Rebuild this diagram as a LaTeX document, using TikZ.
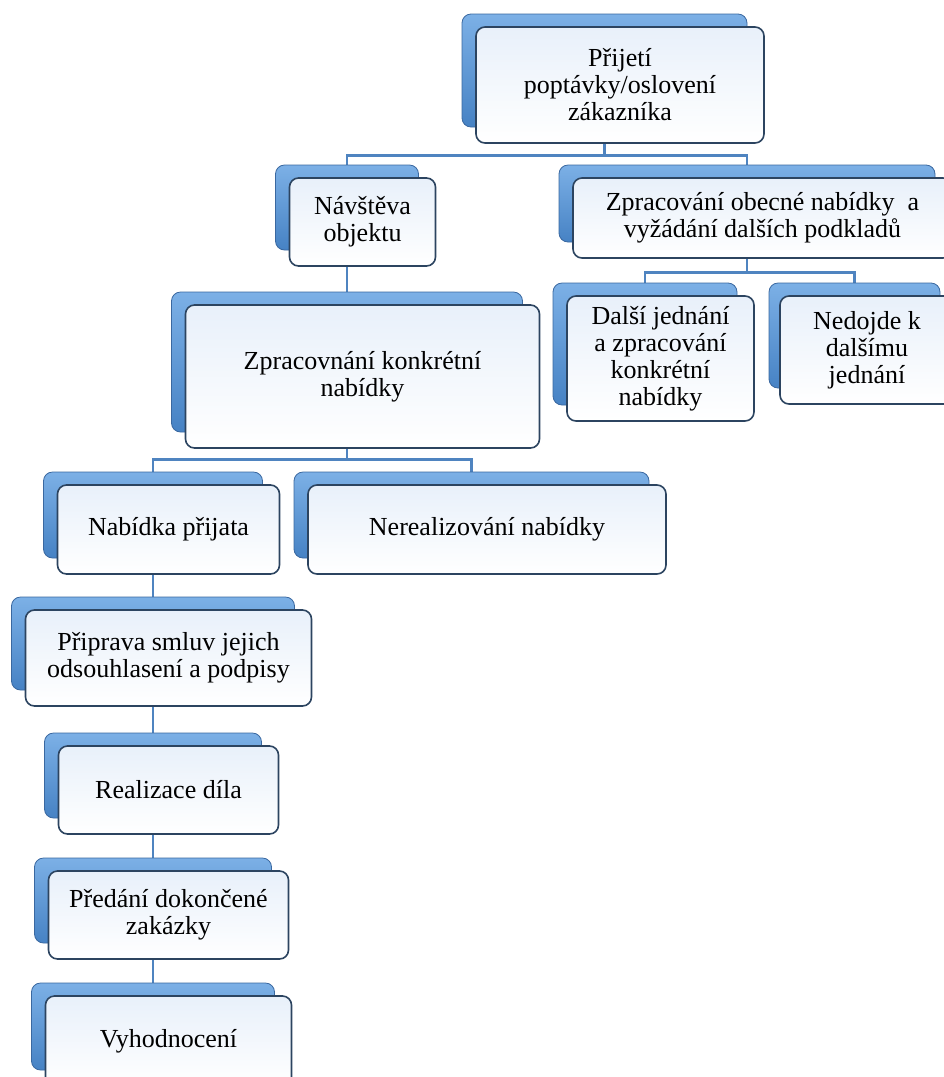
\documentclass[tikz,border=0pt]{standalone}
\usepackage{fontspec}
\setmainfont{Liberation Serif}
\usepackage{tikz}
\usetikzlibrary{backgrounds}
\definecolor{backtop}{RGB}{124,176,230}
\definecolor{backbot}{RGB}{70,130,196}
\definecolor{backedge}{RGB}{58,104,160}
\definecolor{fronttop}{RGB}{232,240,250}
\definecolor{frontedge}{RGB}{44,68,96}
\definecolor{linkcolor}{RGB}{79,132,192}

\begin{document}
\begin{tikzpicture}[
  x=1pt, y=-1pt,
  backbox/.style={draw=backedge, rounded corners=9pt, top color=backtop, bottom color=backbot, line width=0.8pt, inner sep=0pt},
  frontbox/.style={draw=frontedge, rounded corners=9pt, top color=fronttop, bottom color=white, line width=1.6pt, inner sep=0pt, align=center, font=\fontsize{26}{27}\selectfont},
  link/.style={draw=linkcolor, line width=2.2pt},
]
\path[use as bounding box] (0,0) rectangle (944,1077);
\clip (0,0) rectangle (944,1077);

% Top level
\node[backbox, minimum width=285pt, minimum height=113pt] (top_b) at (604.5,70.5) {};
\node[frontbox, minimum width=288pt, minimum height=116pt] (top) at (620,85) {Přijetí\\poptávky/oslovení\\zákazníka};

% Second level
\node[backbox, minimum width=143pt, minimum height=85pt] (nav_b) at (347,207.5) {};
\node[frontbox, minimum width=146pt, minimum height=88pt] (nav) at (362.5,222) {Návštěva\\objektu};
\node[backbox, minimum width=376pt, minimum height=77pt] (obec_b) at (747,203.5) {};
\node[frontbox, minimum width=379pt, minimum height=80pt] (obec) at (762.5,218) {Zpracování obecné nabídky\ \ a\\vyžádání dalších podkladů};

% Right branch
\node[backbox, minimum width=184pt, minimum height=122pt] (dalsi_b) at (645,344) {};
\node[frontbox, minimum width=187pt, minimum height=125pt] (dalsi) at (660.5,358.5) {Další jednání\\a zpracování\\konkrétní\\nabídky};
\node[backbox, minimum width=171pt, minimum height=105pt] (nedo_b) at (854.5,335.5) {};
\node[frontbox, minimum width=174pt, minimum height=108pt] (nedo) at (867,350) {Nedojde k\\dalšímu\\jednání};

% Left branch
\node[backbox, minimum width=351pt, minimum height=140pt] (konk_b) at (347,362) {};
\node[frontbox, minimum width=354pt, minimum height=143pt] (konk) at (362.5,376.5) {Zpracovnání konkrétní\\nabídky};
\node[backbox, minimum width=219pt, minimum height=86pt] (prij_b) at (153,515) {};
\node[frontbox, minimum width=222pt, minimum height=89pt] (prij) at (168.5,529.5) {Nabídka přijata};
\node[backbox, minimum width=355pt, minimum height=86pt] (nere_b) at (471.5,515) {};
\node[frontbox, minimum width=358pt, minimum height=89pt] (nere) at (487,529.5) {Nerealizování nabídky};

% Chain after acceptance
\node[backbox, minimum width=283pt, minimum height=93pt] (prip_b) at (153,643.5) {};
\node[frontbox, minimum width=286pt, minimum height=96pt] (prip) at (168.5,658) {Připrava smluv jejich\\odsouhlasení a podpisy};
\node[backbox, minimum width=217pt, minimum height=85pt] (real_b) at (153,775.5) {};
\node[frontbox, minimum width=220pt, minimum height=88pt] (real) at (168.5,790) {Realizace díla};
\node[backbox, minimum width=237pt, minimum height=85pt] (pred_b) at (153,900.5) {};
\node[frontbox, minimum width=240pt, minimum height=88pt] (pred) at (168.5,915) {Předání dokončené\\zakázky};
\node[backbox, minimum width=243pt, minimum height=87pt] (vyho_b) at (153,1026.5) {};
\node[frontbox, minimum width=246pt, minimum height=90pt] (vyho) at (168.5,1041) {Vyhodnocení};

% Connectors
\begin{scope}[on background layer]
\draw[link] (top_b.south) -- ++(0,28) -| (nav_b.north);
\draw[link] (top_b.south) -- ++(0,28) -| (obec_b.north);
\draw[link] (nav_b.south) -- (konk_b.north);
\draw[link] (obec_b.south) -- ++(0,30) -| (dalsi_b.north);
\draw[link] (obec_b.south) -- ++(0,30) -| (nedo_b.north);
\draw[link] (konk_b.south) -- ++(0,27) -| (prij_b.north);
\draw[link] (konk_b.south) -- ++(0,27) -| (nere_b.north);
\draw[link] (prij_b.south) -- (prip_b.north);
\draw[link] (prip_b.south) -- (real_b.north);
\draw[link] (real_b.south) -- (pred_b.north);
\draw[link] (pred_b.south) -- (vyho_b.north);
\end{scope}

\end{tikzpicture}
\end{document}
